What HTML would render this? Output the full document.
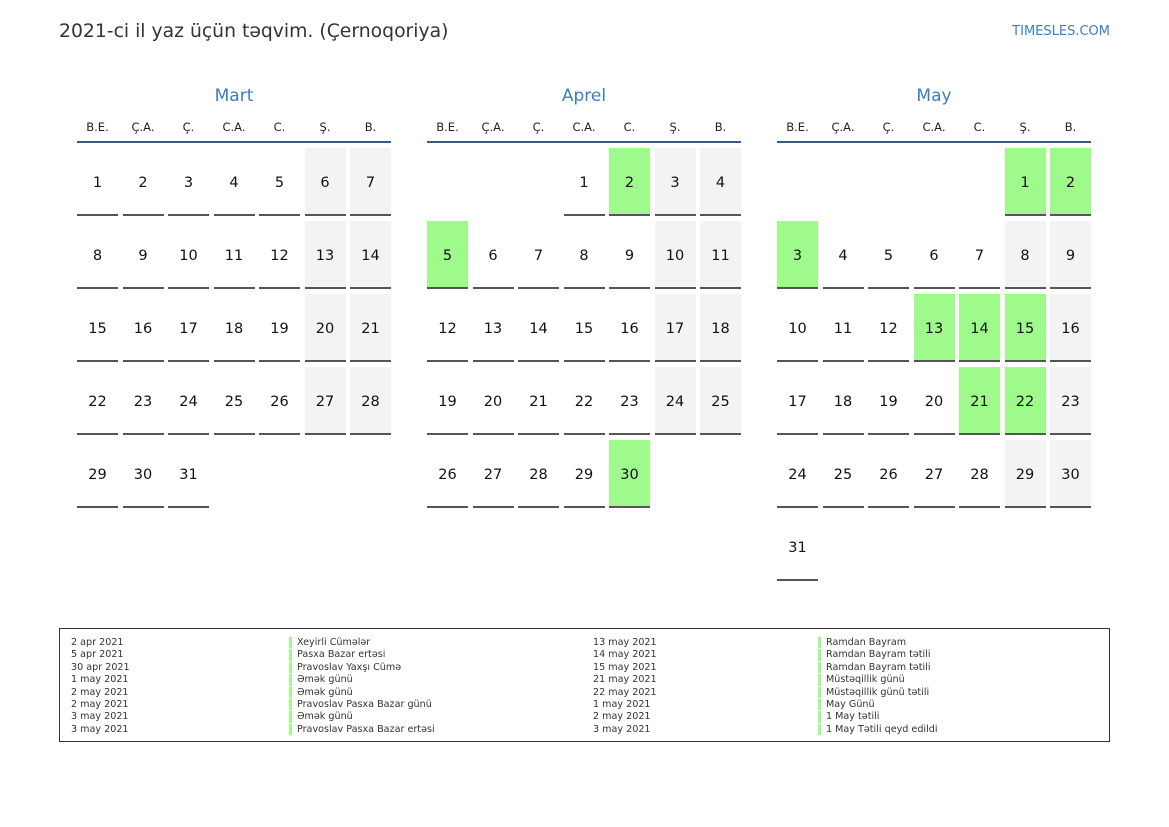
<!DOCTYPE html>
<html><head><meta charset="utf-8"><style>
body{margin:0;width:1169px;height:827px;background:#fff;position:relative;font-family:"DejaVu Sans","Liberation Sans",sans-serif;overflow:hidden}
.a{position:absolute}
.t{left:59px;top:21px;font-size:18.8px;color:#333}
.l{right:59px;top:24px;font-size:13px;color:#3a7ebf}
.m{width:314px;text-align:center;top:86px;font-size:17px;color:#3a7ebf}
.wd{width:41px;text-align:center;top:120px;font-size:11.5px;color:#222}
.hl{height:2px;width:314px;top:141px;background:#3c5a80}
.c{width:41px;height:66px;border-bottom:2px solid #555;text-align:center;line-height:70px;font-size:14.5px;color:#111}
.w{background:#f3f3f3}.h{background:#9efa8a}
.box{left:59px;top:628px;width:1049px;height:112px;border:1.5px solid #333}
.lg{font-size:9.6px;line-height:12.4px;color:#333;top:637px}
.bar{border-left:3px solid #9efa8a;padding-left:5px;height:11.4px;margin-bottom:1px;line-height:11.4px}
</style></head><body>
<div class="a t">2021-ci il yaz üçün təqvim. (Çernoqoriya)</div>
<div class="a l">TIMESLES.COM</div>

<div class="a m" style="left:77px">Mart</div>
<div class="a m" style="left:427px">Aprel</div>
<div class="a m" style="left:777px">May</div>

<div class="a wd" style="left:77px">B.E.</div><div class="a wd" style="left:122.5px">Ç.A.</div><div class="a wd" style="left:168px">Ç.</div><div class="a wd" style="left:213.5px">C.A.</div><div class="a wd" style="left:259px">C.</div><div class="a wd" style="left:304.5px">Ş.</div><div class="a wd" style="left:350px">B.</div>
<div class="a wd" style="left:427px">B.E.</div><div class="a wd" style="left:472.5px">Ç.A.</div><div class="a wd" style="left:518px">Ç.</div><div class="a wd" style="left:563.5px">C.A.</div><div class="a wd" style="left:609px">C.</div><div class="a wd" style="left:654.5px">Ş.</div><div class="a wd" style="left:700px">B.</div>
<div class="a wd" style="left:777px">B.E.</div><div class="a wd" style="left:822.5px">Ç.A.</div><div class="a wd" style="left:868px">Ç.</div><div class="a wd" style="left:913.5px">C.A.</div><div class="a wd" style="left:959px">C.</div><div class="a wd" style="left:1004.5px">Ş.</div><div class="a wd" style="left:1050px">B.</div>
<div class="a hl" style="left:77px"></div><div class="a hl" style="left:427px"></div><div class="a hl" style="left:777px"></div>

<!-- Mart -->
<div class="a c" style="left:77px;top:148px">1</div><div class="a c" style="left:122.5px;top:148px">2</div><div class="a c" style="left:168px;top:148px">3</div><div class="a c" style="left:213.5px;top:148px">4</div><div class="a c" style="left:259px;top:148px">5</div><div class="a c w" style="left:304.5px;top:148px">6</div><div class="a c w" style="left:350px;top:148px">7</div>
<div class="a c" style="left:77px;top:221px">8</div><div class="a c" style="left:122.5px;top:221px">9</div><div class="a c" style="left:168px;top:221px">10</div><div class="a c" style="left:213.5px;top:221px">11</div><div class="a c" style="left:259px;top:221px">12</div><div class="a c w" style="left:304.5px;top:221px">13</div><div class="a c w" style="left:350px;top:221px">14</div>
<div class="a c" style="left:77px;top:294px">15</div><div class="a c" style="left:122.5px;top:294px">16</div><div class="a c" style="left:168px;top:294px">17</div><div class="a c" style="left:213.5px;top:294px">18</div><div class="a c" style="left:259px;top:294px">19</div><div class="a c w" style="left:304.5px;top:294px">20</div><div class="a c w" style="left:350px;top:294px">21</div>
<div class="a c" style="left:77px;top:367px">22</div><div class="a c" style="left:122.5px;top:367px">23</div><div class="a c" style="left:168px;top:367px">24</div><div class="a c" style="left:213.5px;top:367px">25</div><div class="a c" style="left:259px;top:367px">26</div><div class="a c w" style="left:304.5px;top:367px">27</div><div class="a c w" style="left:350px;top:367px">28</div>
<div class="a c" style="left:77px;top:440px">29</div><div class="a c" style="left:122.5px;top:440px">30</div><div class="a c" style="left:168px;top:440px">31</div>

<!-- Aprel -->
<div class="a c" style="left:563.5px;top:148px">1</div><div class="a c h" style="left:609px;top:148px">2</div><div class="a c w" style="left:654.5px;top:148px">3</div><div class="a c w" style="left:700px;top:148px">4</div>
<div class="a c h" style="left:427px;top:221px">5</div><div class="a c" style="left:472.5px;top:221px">6</div><div class="a c" style="left:518px;top:221px">7</div><div class="a c" style="left:563.5px;top:221px">8</div><div class="a c" style="left:609px;top:221px">9</div><div class="a c w" style="left:654.5px;top:221px">10</div><div class="a c w" style="left:700px;top:221px">11</div>
<div class="a c" style="left:427px;top:294px">12</div><div class="a c" style="left:472.5px;top:294px">13</div><div class="a c" style="left:518px;top:294px">14</div><div class="a c" style="left:563.5px;top:294px">15</div><div class="a c" style="left:609px;top:294px">16</div><div class="a c w" style="left:654.5px;top:294px">17</div><div class="a c w" style="left:700px;top:294px">18</div>
<div class="a c" style="left:427px;top:367px">19</div><div class="a c" style="left:472.5px;top:367px">20</div><div class="a c" style="left:518px;top:367px">21</div><div class="a c" style="left:563.5px;top:367px">22</div><div class="a c" style="left:609px;top:367px">23</div><div class="a c w" style="left:654.5px;top:367px">24</div><div class="a c w" style="left:700px;top:367px">25</div>
<div class="a c" style="left:427px;top:440px">26</div><div class="a c" style="left:472.5px;top:440px">27</div><div class="a c" style="left:518px;top:440px">28</div><div class="a c" style="left:563.5px;top:440px">29</div><div class="a c h" style="left:609px;top:440px">30</div>

<!-- May -->
<div class="a c h" style="left:1004.5px;top:148px">1</div><div class="a c h" style="left:1050px;top:148px">2</div>
<div class="a c h" style="left:777px;top:221px">3</div><div class="a c" style="left:822.5px;top:221px">4</div><div class="a c" style="left:868px;top:221px">5</div><div class="a c" style="left:913.5px;top:221px">6</div><div class="a c" style="left:959px;top:221px">7</div><div class="a c w" style="left:1004.5px;top:221px">8</div><div class="a c w" style="left:1050px;top:221px">9</div>
<div class="a c" style="left:777px;top:294px">10</div><div class="a c" style="left:822.5px;top:294px">11</div><div class="a c" style="left:868px;top:294px">12</div><div class="a c h" style="left:913.5px;top:294px">13</div><div class="a c h" style="left:959px;top:294px">14</div><div class="a c h" style="left:1004.5px;top:294px">15</div><div class="a c w" style="left:1050px;top:294px">16</div>
<div class="a c" style="left:777px;top:367px">17</div><div class="a c" style="left:822.5px;top:367px">18</div><div class="a c" style="left:868px;top:367px">19</div><div class="a c" style="left:913.5px;top:367px">20</div><div class="a c h" style="left:959px;top:367px">21</div><div class="a c h" style="left:1004.5px;top:367px">22</div><div class="a c w" style="left:1050px;top:367px">23</div>
<div class="a c" style="left:777px;top:440px">24</div><div class="a c" style="left:822.5px;top:440px">25</div><div class="a c" style="left:868px;top:440px">26</div><div class="a c" style="left:913.5px;top:440px">27</div><div class="a c" style="left:959px;top:440px">28</div><div class="a c w" style="left:1004.5px;top:440px">29</div><div class="a c w" style="left:1050px;top:440px">30</div>
<div class="a c" style="left:777px;top:513px">31</div>

<div class="a box"></div>
<div class="a lg" style="left:71px">2 apr 2021<br>5 apr 2021<br>30 apr 2021<br>1 may 2021<br>2 may 2021<br>2 may 2021<br>3 may 2021<br>3 may 2021</div>
<div class="a lg" style="left:289px"><div class="bar">Xeyirli Cümələr</div><div class="bar">Pasxa Bazar ertəsi</div><div class="bar">Pravoslav Yaxşı Cümə</div><div class="bar">Əmək günü</div><div class="bar">Əmək günü</div><div class="bar">Pravoslav Pasxa Bazar günü</div><div class="bar">Əmək günü</div><div class="bar">Pravoslav Pasxa Bazar ertəsi</div></div>
<div class="a lg" style="left:593px">13 may 2021<br>14 may 2021<br>15 may 2021<br>21 may 2021<br>22 may 2021<br>1 may 2021<br>2 may 2021<br>3 may 2021</div>
<div class="a lg" style="left:818px"><div class="bar">Ramdan Bayram</div><div class="bar">Ramdan Bayram tətili</div><div class="bar">Ramdan Bayram tətili</div><div class="bar">Müstəqillik günü</div><div class="bar">Müstəqillik günü tətili</div><div class="bar">May Günü</div><div class="bar">1 May tətili</div><div class="bar">1 May Tətili qeyd edildi</div></div>
</body></html>
